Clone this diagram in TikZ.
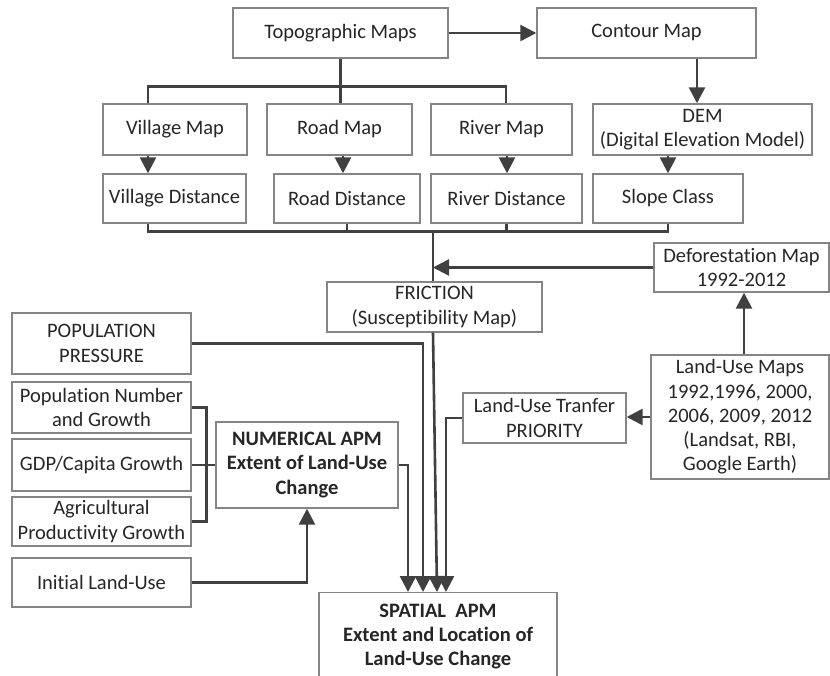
\documentclass[tikz,border=0pt]{standalone}
\usepackage{fontspec}
\setmainfont[Ligatures=NoCommon]{Carlito}
\usetikzlibrary{arrows.meta}
\definecolor{boxc}{HTML}{858585}
\definecolor{linec}{HTML}{404040}
\definecolor{txtc}{HTML}{262626}
\begin{document}
\begin{tikzpicture}[x=1pt,y=-1pt,
  box/.style={draw=boxc, line width=1.4pt, text=txtc, align=center, inner sep=0pt,
    font=\fontsize{20.5}{24.3}\selectfont},
  conn/.style={draw=linec, line width=2.6pt},
  arr/.style={conn, -{Triangle[length=16pt,width=16pt]}}]
\useasboundingbox (0,0) rectangle (830,676);
\fill[white] (0,0) rectangle (830,676);
% top
\node[box, minimum width=215pt, minimum height=50pt] (topo) at (340.5,33) {Topographic Maps};
\node[box, minimum width=219pt, minimum height=50pt] (contour) at (646.5,33) {Contour Map};
% row 1
\node[box, minimum width=144pt, minimum height=51pt] (vmap) at (175,129.5) {Village Map};
\node[box, minimum width=145pt, minimum height=51pt] (rmap) at (339.5,129.5) {Road Map};
\node[box, minimum width=141pt, minimum height=51pt] (rivmap) at (501.5,129.5) {River Map};
\node[box, minimum width=219pt, minimum height=51pt] (dem) at (702.5,129.5) {DEM\\(Digital Elevation Model)};
% row 2
\node[box, minimum width=143pt, minimum height=49pt] (vdist) at (174.5,198.5) {Village Distance};
\node[box, minimum width=146pt, minimum height=49pt] (rdist) at (347,198.5) {Road Distance};
\node[box, minimum width=151pt, minimum height=49pt] (rivdist) at (506.5,198.5) {River Distance};
\node[box, minimum width=150pt, minimum height=49pt] (slope) at (668,198.5) {Slope Class};
% middle
\node[box, minimum width=215pt, minimum height=50pt] (friction) at (434.5,307) {FRICTION\\(Susceptibility Map)};
\node[box, minimum width=175pt, minimum height=49pt] (defor) at (741.5,267.5) {Deforestation Map\\1992-2012};
\node[box, minimum width=178pt, minimum height=124pt] (lumaps) at (740,417) {Land-Use Maps\\1992,1996, 2000,\\2006, 2009, 2012\\(Landsat, RBI,\\Google Earth)};
\node[box, minimum width=163pt, minimum height=50pt] (lutr) at (544.5,418) {Land-Use Tranfer\\PRIORITY};
% left column
\node[box, minimum width=179pt, minimum height=61pt] (poppress) at (101.5,343.5) {POPULATION\\PRESSURE};
\node[box, minimum width=179pt, minimum height=51pt] (popnum) at (101.5,407.5) {Population Number\\and Growth};
\node[box, minimum width=179pt, minimum height=52pt] (gdp) at (101.5,465) {GDP/Capita Growth};
\node[box, minimum width=179pt, minimum height=49pt] (agri) at (101.5,521.5) {Agricultural\\Productivity Growth};
\node[box, minimum width=179pt, minimum height=49pt] (init) at (101.5,582.5) {Initial Land-Use};
\node[box, minimum width=182pt, minimum height=86pt, font=\bfseries\fontsize{20.5}{24.3}\selectfont] (num) at (307,465) {NUMERICAL APM\\Extent of Land-Use\\Change};
% spatial
\node[box, minimum width=238pt, minimum height=110pt, anchor=north] (spatial) at (438,592) {};
\node[text=txtc, align=center, inner sep=0pt, anchor=north, font=\bfseries\fontsize{20.5}{24.3}\selectfont] (spatialtxt) at (438,603.5) {SPATIAL\ \ APM\\Extent and Location of\\Land-Use Change};
% connectors top
\draw[arr] (topo) -- (contour);
\draw[arr] (contour.south -| 697,0) -- (dem.north -| 697,0);
\draw[conn] (topo.south) -- (topo.south |- rmap.north);
\draw[conn] ([xshift=-27pt]vmap.north) -- ++(0,-17) -| ([xshift=4.5pt]rivmap.north);
\draw[arr] ([xshift=-27pt]vmap.south) -- ([xshift=-27pt]vmap.south |- vdist.north);
\draw[arr] ([xshift=3.5pt]rmap.south) -- ([xshift=3.5pt]rmap.south |- rdist.north);
\draw[arr] ([xshift=5.5pt]rivmap.south) -- ([xshift=5.5pt]rivmap.south |- rivdist.north);
\draw[arr] (slope.north |- dem.south) -- (slope.north);
% collector
\draw[conn] ([xshift=-26.5pt]vdist.south) -- ++(0,8) -| (slope.south);
\draw[conn] (rdist.south) -- ++(0,8);
\draw[conn] (rivdist.south) -- ++(0,8);
\coordinate (j2) at (433,231);
\draw[conn] (j2) -- (friction.north -| j2);
\draw[arr] (defor.west) -- (defor.west -| j2);
\draw[arr] ([xshift=4pt]lumaps.north) -- ([xshift=4pt]lumaps.north |- defor.south);
\draw[arr] (lumaps.west) -- (lumaps.west -| lutr.east);
% into spatial
\draw[arr] (friction.south -| j2) -- ([xshift=-1pt]spatial.north);
\draw[arr] (poppress.east) -| ([xshift=-15pt]spatial.north);
\draw[arr] (num.east) -| ([xshift=-30pt]spatial.north);
\draw[arr] (lutr.west) -| ([xshift=8pt]spatial.north);
% left bracket
\draw[conn] (popnum.east) -- ++(15,0) |- (agri.east);
\draw[conn] (gdp.east) -- (gdp.east -| num.west);
\draw[arr] (init.east) -| (num.south);
\end{tikzpicture}
\end{document}
